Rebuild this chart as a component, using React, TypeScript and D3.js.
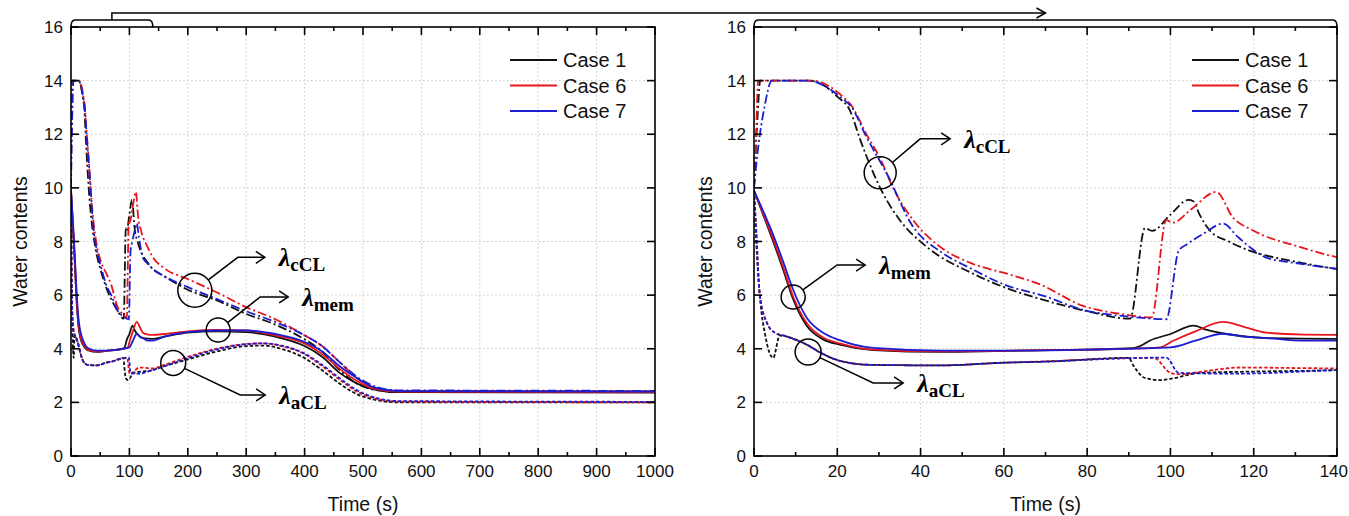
import React from "react";
import * as d3 from "d3";

type Pt = [number, number];

// ---- data (time s, water content) ----
const caseNames = ["Case 1", "Case 6", "Case 7"];
const caseColors = ["#111111", "#e8161b", "#1c1cd0"];

const case1CCL: Pt[] = [[0, 10], [0.8, 12.5], [1.5, 14], [13, 14], [17, 13.8], [20, 13.4], [23, 12.9], [25.5, 11.8], [28, 10.8], [30.3, 10], [35, 8.8], [41.5, 7.8], [52.6, 6.8], [60, 6.3], [70, 5.8], [80, 5.4], [90.3, 5.12], [93.9, 8.5], [95.6, 8.4], [100, 9.0], [104.3, 9.55], [105.5, 9.5], [107, 9.0], [109.5, 8.4], [114, 8.0], [119, 7.66], [130, 7.25], [139, 7.0], [160, 6.7], [200, 6.2], [250, 5.8], [300, 5.3], [350, 4.9], [400, 4.35], [430, 3.9], [460, 3.2], [490, 2.7], [520, 2.47], [560, 2.4], [1000, 2.4]];
const case6CCL: Pt[] = [[0, 10], [0.5, 12], [1, 14], [14, 14], [18, 13.8], [20.6, 13.5], [23.5, 13.05], [27, 12], [30.3, 11.1], [33.4, 10], [38.2, 8.8], [44.7, 7.8], [52, 7.2], [60.7, 6.8], [68.7, 6.4], [79, 5.6], [88, 5.3], [95.5, 5.17], [99, 8.8], [100.5, 8.7], [105, 9.2], [111, 9.85], [115, 8.9], [120, 8.4], [131, 7.8], [139, 7.45], [160, 7.0], [200, 6.6], [250, 6.1], [300, 5.55], [350, 5.1], [400, 4.5], [430, 4.1], [460, 3.5], [490, 2.9], [520, 2.55], [560, 2.43], [1000, 2.42]];
const case7CCL: Pt[] = [[0, 10], [1, 11.5], [2.5, 13], [4.3, 14], [13, 14], [17, 13.8], [20.6, 13.4], [23.5, 13.0], [27, 11.9], [32, 10.5], [38, 8.6], [45, 7.6], [52, 7.0], [60, 6.4], [70, 5.95], [79, 5.45], [90, 5.2], [99, 5.1], [102, 7.66], [104, 7.9], [108, 8.3], [112.7, 8.67], [116, 8.2], [119, 7.8], [123, 7.4], [130, 7.2], [139, 7.0], [160, 6.7], [200, 6.3], [250, 5.85], [300, 5.4], [350, 5.0], [400, 4.5], [430, 4.1], [460, 3.5], [490, 2.95], [520, 2.6], [560, 2.45], [1000, 2.43]];

const case1Mem: Pt[] = [[0, 9.9], [2.3, 8.95], [4.6, 8.0], [7, 6.95], [9.4, 5.85], [12.7, 4.85], [16.6, 4.35], [20.6, 4.15], [28.6, 3.95], [45, 3.88], [60, 3.92], [80, 3.97], [91, 4.02], [92.7, 4.1], [95, 4.3], [100, 4.55], [105.5, 4.86], [108.8, 4.7], [113.5, 4.55], [123, 4.4], [139, 4.37], [160, 4.45], [200, 4.6], [250, 4.65], [300, 4.62], [350, 4.45], [400, 4.1], [430, 3.7], [460, 3.1], [490, 2.7], [520, 2.48], [560, 2.38], [1000, 2.36]];
const case6Mem: Pt[] = [[0, 9.9], [2.3, 9.0], [4.6, 8.1], [7, 7.05], [9.4, 5.95], [12.7, 4.95], [16.6, 4.42], [20.6, 4.2], [28.6, 3.97], [45, 3.9], [60, 3.92], [80, 3.97], [96, 4.03], [97.5, 4.05], [100.7, 4.3], [106, 4.65], [112.6, 5.0], [118, 4.8], [123, 4.6], [132, 4.53], [139, 4.52], [160, 4.55], [200, 4.65], [250, 4.7], [300, 4.68], [350, 4.5], [400, 4.2], [430, 3.8], [460, 3.25], [490, 2.8], [520, 2.5], [560, 2.4], [1000, 2.38]];
const case7Mem: Pt[] = [[0, 9.9], [2.3, 9.1], [4.6, 8.25], [7, 7.25], [9.4, 6.2], [12.7, 5.15], [16.6, 4.6], [20.6, 4.32], [28.6, 4.03], [45, 3.93], [60, 3.93], [80, 3.97], [100, 4.05], [106, 4.3], [112.6, 4.56], [118, 4.45], [123, 4.4], [132, 4.3], [139, 4.3], [160, 4.45], [200, 4.62], [250, 4.68], [300, 4.68], [350, 4.55], [400, 4.25], [430, 3.9], [460, 3.35], [490, 2.9], [520, 2.55], [560, 2.42], [1000, 2.4]];

const case1ACL: Pt[] = [[0, 9.9], [0.7, 7.5], [1.5, 5.8], [2.7, 4.5], [4.6, 3.66], [6.2, 4.5], [8, 4.45], [12.7, 4.15], [16, 3.85], [20.6, 3.55], [28, 3.4], [45, 3.38], [60, 3.48], [70, 3.52], [90, 3.66], [91, 3.4], [94, 2.9], [97.5, 2.83], [100.7, 2.9], [107, 3.1], [120, 3.15], [139, 3.2], [160, 3.35], [200, 3.6], [250, 3.9], [300, 4.1], [330, 4.12], [360, 4.0], [400, 3.65], [430, 3.2], [460, 2.7], [490, 2.3], [520, 2.1], [560, 2.0], [1000, 2.0]];
const case6ACL: Pt[] = [[0, 9.9], [0.5, 8.5], [1.4, 6.0], [3, 5.0], [5, 4.6], [8, 4.45], [12.7, 4.15], [16, 3.85], [20.6, 3.55], [28, 3.4], [45, 3.38], [60, 3.48], [70, 3.53], [90, 3.65], [96, 3.66], [100, 3.1], [102, 3.05], [110, 3.2], [116.7, 3.3], [139, 3.27], [160, 3.4], [200, 3.7], [250, 4.0], [300, 4.18], [330, 4.2], [360, 4.1], [400, 3.8], [430, 3.35], [460, 2.85], [490, 2.4], [520, 2.15], [560, 2.03], [1000, 2.0]];
const case7ACL: Pt[] = [[0, 9.9], [0.5, 8.5], [1.4, 6.0], [3, 5.0], [5, 4.6], [8, 4.45], [12.7, 4.15], [16, 3.85], [20.6, 3.55], [28, 3.4], [45, 3.38], [60, 3.48], [70, 3.52], [90, 3.65], [99, 3.67], [102, 3.1], [115, 3.07], [139, 3.2], [160, 3.35], [200, 3.65], [250, 3.98], [300, 4.17], [330, 4.2], [360, 4.12], [400, 3.82], [430, 3.4], [460, 2.9], [490, 2.45], [520, 2.18], [560, 2.05], [1000, 2.02]];

const yTicks = [0, 2, 4, 6, 8, 10, 12, 14, 16];
const leftXTicks = [0, 100, 200, 300, 400, 500, 600, 700, 800, 900, 1000];
const rightXTicks = [0, 20, 40, 60, 80, 100, 120, 140];

const DASH_DOT = "9,3,2,3";
const DASHED = "3.5,2";

const series = [
  { data: case1CCL, color: 0, dash: DASH_DOT },
  { data: case6CCL, color: 1, dash: DASH_DOT },
  { data: case7CCL, color: 2, dash: DASH_DOT },
  { data: case1ACL, color: 0, dash: DASHED },
  { data: case6ACL, color: 1, dash: DASHED },
  { data: case7ACL, color: 2, dash: DASHED },
  { data: case1Mem, color: 0, dash: "" },
  { data: case6Mem, color: 1, dash: "" },
  { data: case7Mem, color: 2, dash: "" },
];

const SANS = "Arial, 'Liberation Sans', sans-serif";
const SERIF = "'Times New Roman', 'Liberation Serif', serif";
const TOP = 27;
const BOTTOM = 456;
const PAGE_W = 1349;

// circle annotations: anchor in data units, offsets in px
type Note = { t: number; v: number; r: number; dx: number; dy: number; len: number; sub: string };

function Annotation({ n, x, y }: { n: Note; x: any; y: any }) {
  const cx = x(n.t);
  const cy = y(n.v);
  const ex = cx + n.dx;
  const ey = cy + n.dy;
  const ang = Math.atan2(n.dy, n.dx);
  const sx = cx + n.r * Math.cos(ang);
  const sy = cy + n.r * Math.sin(ang);
  const ax = ex + n.len;
  return (
    <g stroke="#000" strokeWidth={1.5} fill="none">
      <circle cx={cx} cy={cy} r={n.r} />
      <polyline points={`${sx},${sy} ${ex},${ey} ${ax},${ey}`} />
      <polyline points={`${ax - 9},${ey - 6} ${ax},${ey} ${ax - 9},${ey + 6}`} />
      <text x={ax + 14} y={ey + 9} stroke="none" fill="#000" fontFamily={SERIF} fontWeight="bold">
        <tspan fontSize={26} fontStyle="italic">λ</tspan>
        <tspan fontSize={19} dy={5}>{n.sub}</tspan>
      </text>
    </g>
  );
}

function Panel({ id, left, right, xMax, ticks, minor, notes, yLabelX }: any) {
  const x = d3.scaleLinear().domain([0, xMax]).range([left, right]);
  const y = d3.scaleLinear().domain([0, 16]).range([BOTTOM, TOP]);
  const line = d3.line<Pt>().x(d => x(d[0])).y(d => y(d[1])).curve(d3.curveMonotoneX);
  const minorTicks = ticks.slice(1).map((t: number) => t - minor);
  const legendX = right - 145;

  return (
    <g>
      <defs>
        <clipPath id={id}>
          <rect x={left} y={TOP} width={right - left} height={BOTTOM - TOP} />
        </clipPath>
      </defs>
      {/* grid */}
      <g stroke="#c8c8c8" strokeWidth={1} strokeDasharray="1.5,2.5">
        {ticks.slice(1, -1).map((t: number) => (
          <line key={"gx" + t} x1={x(t)} x2={x(t)} y1={TOP} y2={BOTTOM} />
        ))}
        {yTicks.slice(1, -1).map(v => (
          <line key={"gy" + v} x1={left} x2={right} y1={y(v)} y2={y(v)} />
        ))}
      </g>
      {/* series */}
      <g clipPath={`url(#${id})`} fill="none">
        {series.map((s, i) => (
          <path key={i} d={line(s.data) || ""} stroke={caseColors[s.color]} strokeWidth={1.8}
            strokeDasharray={s.dash || undefined} />
        ))}
      </g>
      {/* frame and ticks */}
      <g stroke="#000" strokeWidth={1.6}>
        <rect x={left} y={TOP} width={right - left} height={BOTTOM - TOP} fill="none" />
        {ticks.map((t: number) => (
          <g key={"t" + t}>
            <line x1={x(t)} x2={x(t)} y1={BOTTOM} y2={BOTTOM - 8} />
            <line x1={x(t)} x2={x(t)} y1={TOP} y2={TOP + 8} />
          </g>
        ))}
        {minorTicks.map((t: number) => (
          <g key={"m" + t}>
            <line x1={x(t)} x2={x(t)} y1={BOTTOM} y2={BOTTOM - 4} />
            <line x1={x(t)} x2={x(t)} y1={TOP} y2={TOP + 4} />
          </g>
        ))}
        {yTicks.map(v => (
          <g key={"y" + v}>
            <line x1={left} x2={left + 8} y1={y(v)} y2={y(v)} />
            <line x1={right} x2={right - 8} y1={y(v)} y2={y(v)} />
          </g>
        ))}
      </g>
      <g fontFamily={SANS} fontSize={17} fill="#111">
        {ticks.map((t: number) => {
          const w = String(t).length * 9.5;
          const tooFar = x(t) + w / 2 > PAGE_W - 1;
          return (
            <text key={"xl" + t} x={tooFar ? PAGE_W - 1 : x(t)} y={BOTTOM + 21}
              textAnchor={tooFar ? "end" : "middle"}>{t}</text>
          );
        })}
        {yTicks.map(v => (
          <text key={"yl" + v} x={left - 8} y={y(v) + 6} textAnchor="end">{v}</text>
        ))}
      </g>
      <text x={(left + right) / 2} y={511} textAnchor="middle" fontFamily={SANS} fontSize={19.5} fill="#111">Time (s)</text>
      <text transform={`translate(${yLabelX},${(TOP + BOTTOM) / 2}) rotate(-90)`} textAnchor="middle"
        fontFamily={SANS} fontSize={19.5} fill="#111">Water contents</text>
      {/* legend */}
      {caseNames.map((c, i) => (
        <g key={c}>
          <line x1={legendX} x2={legendX + 47} y1={60 + i * 25.5} y2={60 + i * 25.5} stroke={caseColors[i]} strokeWidth={1.8} />
          <text x={legendX + 53} y={60 + i * 25.5 + 7} fontFamily={SANS} fontSize={20} fill="#111">{c}</text>
        </g>
      ))}
      {notes.map((n: Note, i: number) => <Annotation key={i} n={n} x={x} y={y} />)}
    </g>
  );
}

const leftNotes: Note[] = [
  { t: 212, v: 6.18, r: 17, dx: 43, dy: -33, len: 27, sub: "cCL" },
  { t: 252, v: 4.7, r: 12, dx: 42, dy: -33, len: 28, sub: "mem" },
  { t: 175, v: 3.47, r: 12.5, dx: 67, dy: 32, len: 25, sub: "aCL" },
];
const rightNotes: Note[] = [
  { t: 30.3, v: 10.56, r: 16, dx: 40, dy: -34, len: 30, sub: "cCL" },
  { t: 9.4, v: 5.93, r: 12, dx: 44, dy: -32, len: 28, sub: "mem" },
  { t: 13, v: 3.88, r: 13, dx: 65, dy: 31, len: 30, sub: "aCL" },
];

export default function App() {
  const L = { left: 71, right: 655 };
  const R = { left: 754, right: 1337 };
  const xl = d3.scaleLinear().domain([0, 1000]).range([L.left, L.right]);
  const zoomEnd = xl(140);
  const smallMid = (L.left + zoomEnd) / 2;
  const bigMid = (R.left + R.right) / 2;
  const bracket = (a: number, b: number) => `M${a},${TOP} Q${a},20 ${a + 4},20 H${b - 4} Q${b},20 ${b},${TOP}`;
  return (
    <svg width={PAGE_W} height={516} style={{ display: "block", position: "absolute", left: 0, top: 0, background: "#fff" }}>
      <Panel id="clipL" left={L.left} right={L.right} xMax={1000} ticks={leftXTicks} minor={50} notes={leftNotes} yLabelX={27} />
      <Panel id="clipR" left={R.left} right={R.right} xMax={140} ticks={rightXTicks} minor={10} notes={rightNotes} yLabelX={712} />
      <g stroke="#000" strokeWidth={1.5} fill="none">
        <path d={bracket(L.left, zoomEnd)} />
        <path d={bracket(R.left, R.right)} />
        <path d={`M${smallMid},20 V13 H${bigMid}`} />
        <polyline points={`${bigMid - 9},8 ${bigMid},13 ${bigMid - 9},18`} />
      </g>
    </svg>
  );
}
